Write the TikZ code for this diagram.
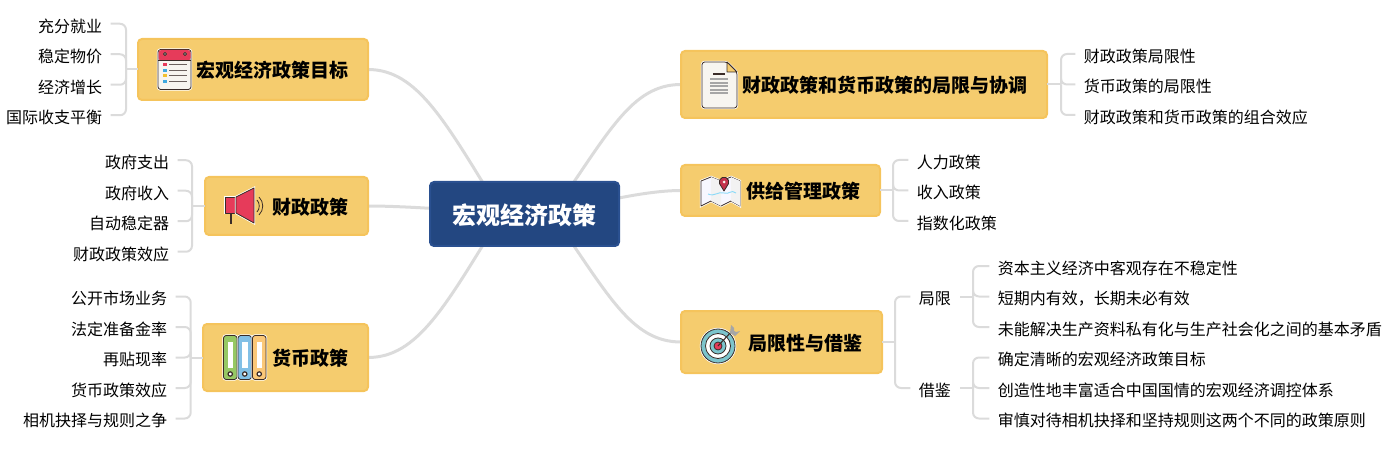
\documentclass[tikz,border=0pt]{standalone}
\usepackage{fontspec}
\setmainfont{Noto Sans CJK SC}
\usetikzlibrary{positioning,backgrounds}
\definecolor{topicfill}{HTML}{F5CC6E}
\definecolor{topicline}{HTML}{F5C45C}
\definecolor{rootfill}{HTML}{234781}
\definecolor{rootline}{HTML}{2A5090}
\definecolor{linkgray}{HTML}{DBDBDB}
\definecolor{inkdark}{HTML}{3A2C28}
\definecolor{iconred}{HTML}{E63B5A}
\definecolor{iconteal}{HTML}{7CC4CC}
\definecolor{papercol}{HTML}{F7F5F0}
\definecolor{bindergreen}{HTML}{96C864}
\definecolor{binderblue}{HTML}{82C0E6}
\definecolor{binderorange}{HTML}{FBC878}
\definecolor{tagblue}{HTML}{3FA9E0}
\definecolor{tagyellow}{HTML}{F2C12E}
\tikzset{
    icon/.style={draw=inkdark, line width=.6pt, line join=round},
    halo/.style={preaction={draw=white, line width=1.8pt}},
    pics/calendaricon/.style={code={
        \draw[icon, halo, fill=papercol, rounded corners=2] (-17,-20) rectangle (16,20);
        \fill[iconred, rounded corners=2] (-16.5,-19.5) rectangle (15.5,-9);
        \draw[icon] (-17,-9) -- (16,-9);
        \foreach \px in {-10,10} \draw[icon, fill=papercol] (\px,-15.5) circle (1.5);
        \foreach \py/\tagcol in {-5/iconred,1/tagblue,6/tagyellow,12/tagblue} {
            \fill[\tagcol] (-12,\py-1.7) rectangle (-8,\py+1.7);
            \draw[inkdark!75, line width=.8pt] (-6,\py) -- (12,\py);
        }
    }},
    pics/megaphoneicon/.style={code={
        \draw[icon, line width=1.3pt] (-14,6) -- (-14,18);
        \draw[icon, halo, fill=iconred] (-20,-9) rectangle (-9,7);
        \draw[icon, halo, fill=iconred] (-9,-9) -- (9,-18) -- (9,17) -- (-9,7) -- cycle;
        \draw[icon] (12,-6) .. controls (15,-3) and (15,3) .. (12,6);
        \draw[icon] (14,-9) .. controls (19,-4) and (19,4) .. (14,9);
    }},
    pics/bindericon/.style={code={
        \foreach \bx/\bindercol in {-21.5/bindergreen,-7/binderblue,7.5/binderorange} {
            \draw[icon, halo, fill=\bindercol, rounded corners=2] (\bx,-22) rectangle (\bx+13.5,22);
            \fill[white] (\bx+4,-16) rectangle (\bx+9.5,10);
            \draw[icon, line width=.9pt, fill=white] (\bx+6.75,16.5) circle (2.2);
        }
    }},
    pics/papericon/.style={code={
        \draw[icon, halo, fill=papercol, rounded corners=2] (-18,-23) -- (7,-23) -- (17,-13) -- (17,23) -- (-18,23) -- cycle;
        \draw[icon, fill=topicfill] (7,-23) -- (7,-13) -- (17,-13) -- cycle;
        \draw[inkdark, line width=.9pt] (-7,-11) -- (5,-11);
        \foreach \py in {-6,-2,1,5,8} \draw[gray!70, line width=.9pt] (-10,\py) -- (8,\py);
    }},
    pics/mapicon/.style={code={
        \draw[icon, halo, fill=blue!3] (-20,-10) -- (-10,-14) -- (0,-10) -- (10,-14) -- (19,-10) -- (19,15) -- (10,10) -- (0,15) -- (-10,10) -- (-20,15) -- cycle;
        \fill[gray!10] (-10,-14) -- (0,-10) -- (0,15) -- (-10,10) -- cycle;
        \fill[gray!10] (10,-14) -- (19,-10) -- (19,15) -- (10,10) -- cycle;
        \draw[cyan!45, line width=.7pt] (-13,3) .. controls (-6,6) and (-3,0) .. (3,2) .. controls (8,4) and (10,-2) .. (15,2);
        \draw[icon, fill=iconred!85!black] (3,0) -- (-1.5,-7.4) arc (160:380:4.8) -- cycle;
        \fill[papercol] (3,-9) circle (1.5);
    }},
    pics/targeticon/.style={code={
        \draw[icon, halo, fill=iconteal] (0,0) circle (17);
        \draw[icon, fill=white] (0,0) circle (12.5);
        \draw[icon, fill=iconteal] (0,0) circle (8);
        \draw[icon, fill=iconred] (0,0) circle (4);
        \draw[inkdark, line width=.8pt] (0,0) -- (14,-15);
        \fill[gray!70] (12,-13) -- (13,-21) -- (16,-18) -- (16,-15) -- (18,-14) -- (22,-15) -- (17,-10) -- cycle;
    }}
}
\begin{document}
\begin{tikzpicture}[x=.75pt, y=-.75pt, font=\fontsize{12pt}{14pt}\selectfont,
        rootbox/.style={rectangle, draw=rootline, fill=rootfill, line width=1.5pt, rounded corners=3pt, outer sep=0pt, text=white, font=\fontsize{18pt}{20pt}\selectfont\bfseries, minimum width=141.75pt, minimum height=48pt, text height=15.5pt, text depth=.5pt},
        topic/.style={rectangle, draw=topicline, fill=topicfill, line width=1.5pt, rounded corners=3pt, outer sep=0pt, inner xsep=15pt, align=right, font=\fontsize{14.25pt}{16pt}\selectfont\bfseries, text height=12.5pt, text depth=.2pt},
        leafleft/.style={anchor=east, inner xsep=6.5pt, inner ysep=0pt, outer sep=0pt, text height=14pt, text depth=1.4pt},
        leafright/.style={leafleft, anchor=west},
        branch/.style={draw=linkgray, line width=2.25pt},
        twig/.style={draw=linkgray, line width=1.5pt, rounded corners=4.5pt}]
    \useasboundingbox (0,0) rectangle (1391,463);

    \node [rootbox] (root) at (524.5,214) {宏观经济政策};
    \coordinate (rootl) at (502,214);
    \coordinate (rootr) at (552,214);

    % left side
    \node [topic, text width=142.5pt, minimum height=45.75pt] (goal) at (253,69.5) {宏观经济政策目标};
    \node [topic, text width=92.25pt, minimum height=43.5pt] (fiscal) at (286.5,206) {财政政策};
    \node [topic, text width=93.75pt, minimum height=50.25pt] (money) at (285.5,357.5) {货币政策};

    % right side
    \node [topic, text width=244.5pt, minimum height=50.25pt] (coord) at (864,84.5) {财政政策和货币政策的局限与协调};
    \node [topic, text width=119.25pt, minimum height=38.25pt] (supply) at (780.5,190.5) {供给管理政策};
    \node [topic, text width=120.75pt, minimum height=46.5pt] (limit) at (781.5,342) {局限性与借鉴};

    \pic at (175,69.5) {calendaricon};
    \pic at (245,206) {megaphoneicon};
    \pic at (245,357.5) {bindericon};
    \pic at (720,85) {papericon};
    \pic at (721,191) {mapicon};
    \pic at (718,346) {targeticon};

    \node [leafleft] (goal1) at (110.7,23.75) {充分就业};
    \node [leafleft, below=22.875pt of goal1.east, anchor=east] (goal2) {稳定物价};
    \node [leafleft, below=22.875pt of goal2.east, anchor=east] (goal3) {经济增长};
    \node [leafleft, below=22.875pt of goal3.east, anchor=east] (goal4) {国际收支平衡};

    \node [leafleft] (fiscal1) at (177.7,160.25) {政府支出};
    \node [leafleft, below=22.875pt of fiscal1.east, anchor=east] (fiscal2) {政府收入};
    \node [leafleft, below=22.875pt of fiscal2.east, anchor=east] (fiscal3) {自动稳定器};
    \node [leafleft, below=22.875pt of fiscal3.east, anchor=east] (fiscal4) {财政政策效应};

    \node [leafleft] (money1) at (175.7,296.5) {公开市场业务};
    \node [leafleft, below=22.875pt of money1.east, anchor=east] (money2) {法定准备金率};
    \node [leafleft, below=22.875pt of money2.east, anchor=east] (money3) {再贴现率};
    \node [leafleft, below=22.875pt of money3.east, anchor=east] (money4) {货币政策效应};
    \node [leafleft, below=22.875pt of money4.east, anchor=east] (money5) {相机抉择与规则之争};

    \node [leafright] (coord1) at (1075.3,54) {财政政策局限性};
    \node [leafright, below=22.875pt of coord1.west, anchor=west] (coord2) {货币政策的局限性};
    \node [leafright, below=22.875pt of coord2.west, anchor=west] (coord3) {财政政策和货币政策的组合效应};

    \node [leafright] (supply1) at (908.3,160) {人力政策};
    \node [leafright, below=22.875pt of supply1.west, anchor=west] (supply2) {收入政策};
    \node [leafright, below=22.875pt of supply2.west, anchor=west] (supply3) {指数化政策};

    \node [leafright] (bound) at (910.3,296.5) {局限};
    \node [leafright] (learn) at (910.3,388) {借鉴};

    \node [leafright] (bound1) at (989.3,266) {资本主义经济中客观存在不稳定性};
    \node [leafright, below=22.875pt of bound1.west, anchor=west] (bound2) {短期内有效，长期未必有效};
    \node [leafright, below=22.875pt of bound2.west, anchor=west] (bound3) {未能解决生产资料私有化与生产社会化之间的基本矛盾};

    \node [leafright] (learn1) at (989.3,357.5) {确定清晰的宏观经济政策目标};
    \node [leafright, below=22.875pt of learn1.west, anchor=west] (learn2) {创造性地丰富适合中国国情的宏观经济调控体系};
    \node [leafright, below=22.875pt of learn2.west, anchor=west] (learn3) {审慎对待相机抉择和坚持规则这两个不同的政策原则};

    \coordinate (goaljoin) at (126,69.5);
    \coordinate (fiscaljoin) at (192,206);
    \coordinate (moneyjoin) at (190.7,357.5);
    \coordinate (coordjoin) at (1061,84.5);
    \coordinate (supplyjoin) at (893,190.5);
    \coordinate (limitjoin) at (895,342);
    \coordinate (boundjoin) at (973,296.5);
    \coordinate (learnjoin) at (973,388);

    \begin{scope}[on background layer]
        \draw [branch] (goal.east) .. controls +(50,0) and +(-56,-91) .. (rootl);
        \draw [branch] (fiscal.east) .. controls +(40,0) and +(-30,-3) .. (rootl);
        \draw [branch] (money.east) .. controls +(50,0) and +(-56,91) .. (rootl);
        \draw [branch] (coord.west) .. controls +(-50,0) and +(56,-80) .. (rootr);
        \draw [branch] (supply.west) .. controls +(-40,0) and +(30,-8) .. (rootr);
        \draw [branch] (limit.west) .. controls +(-50,0) and +(56,80) .. (rootr);
    \end{scope}

    \draw [twig] (goaljoin) -- (goal.west);
    \foreach \i in {1,...,4} \draw [twig] (goal\i.east) -| (goaljoin);
    \draw [twig] (fiscaljoin) -- (fiscal.west);
    \foreach \i in {1,...,4} \draw [twig] (fiscal\i.east) -| (fiscaljoin);
    \draw [twig] (moneyjoin) -- (money.west);
    \foreach \i in {1,...,5} \draw [twig] (money\i.east) -| (moneyjoin);
    \draw [twig] (coordjoin) -- (coord.east);
    \foreach \i in {1,2,3} \draw [twig] (coord\i.west) -| (coordjoin);
    \draw [twig] (supplyjoin) -- (supply.east);
    \foreach \i in {1,2,3} \draw [twig] (supply\i.west) -| (supplyjoin);
    \draw [twig] (limitjoin) -- (limit.east);
    \draw [twig] (bound.west) -| (limitjoin);
    \draw [twig] (learn.west) -| (limitjoin);
    \draw [twig] (boundjoin) -- (bound.east);
    \foreach \i in {1,2,3} \draw [twig] (bound\i.west) -| (boundjoin);
    \draw [twig] (learnjoin) -- (learn.east);
    \foreach \i in {1,2,3} \draw [twig] (learn\i.west) -| (learnjoin);
\end{tikzpicture}
\end{document}
